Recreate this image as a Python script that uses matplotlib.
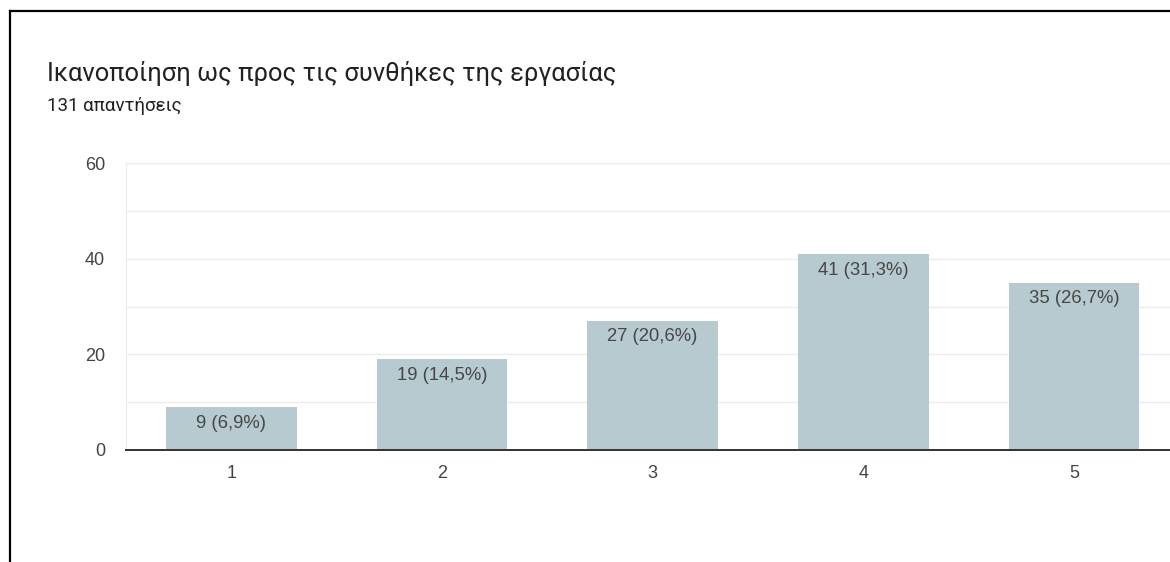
import matplotlib
matplotlib.use("Agg")
import matplotlib.pyplot as plt
from matplotlib.lines import Line2D
from matplotlib.ticker import MultipleLocator

plt.rcParams['font.family'] = ['Liberation Sans', 'DejaVu Sans']

# survey answers on a 1-5 scale
categories = ['1', '2', '3', '4', '5']
counts = [9, 19, 27, 41, 35]
percents = ['6,9', '14,5', '20,6', '31,3', '26,7']
total = 131

title = "Ικανοποίηση ως προς τις συνθήκες της εργασίας"
subtitle = f"{total} απαντήσεις"

bar_color = '#b7cacf'
text_color = '#474747'

fig = plt.figure(figsize=(11.7, 5.62), dpi=100)
ax = fig.add_axes([126 / 1170, 112 / 562, 1044 / 1170, 287 / 562])

x = list(range(1, len(categories) + 1))
bars = ax.bar(x, counts, width=0.62, color=bar_color, zorder=2)

for rect, n, p in zip(bars, counts, percents):
    ax.annotate(f"{n} ({p}%)",
                xy=(rect.get_x() + rect.get_width() / 2, rect.get_height()),
                xytext=(0, -5.5), textcoords='offset points',
                ha='center', va='top', fontsize=13.3, color=text_color)

ax.set_xlim(0.5, 5.456)
ax.set_ylim(0, 60)
ax.set_xticks(x)
ax.set_xticklabels(categories)
ax.yaxis.set_major_locator(MultipleLocator(20))
ax.yaxis.set_minor_locator(MultipleLocator(10))
ax.grid(which='both', axis='y', color='#ececec', linewidth=1, zorder=0)
ax.tick_params(axis='both', which='both', length=0, labelsize=13, labelcolor='#444444')
ax.tick_params(axis='y', pad=15)
ax.tick_params(axis='x', pad=11)

for side in ['top', 'right']:
    ax.spines[side].set_visible(False)
ax.spines['left'].set_color('#ececec')
ax.spines['bottom'].set_color('#333333')
ax.spines['bottom'].set_linewidth(1.4)
ax.spines['bottom'].set_zorder(3)

fig.text(47 / 1170, 1 - 73 / 562, title, fontsize=18.4, color='#202124',
         va='center', family=['Roboto', 'DejaVu Sans'])
fig.text(47 / 1170, 1 - 106 / 562, subtitle, fontsize=13.5, color='#202124',
         va='center', family=['Roboto', 'DejaVu Sans'])

# card border, left and top edges
fig.add_artist(Line2D([9.5 / 1170, 9.5 / 1170], [0, 1 - 11 / 562], color='black', linewidth=1.6))
fig.add_artist(Line2D([9.5 / 1170, 1], [1 - 11 / 562, 1 - 11 / 562], color='black', linewidth=1.6))

fig.savefig('out.png', dpi=100, facecolor='white')
